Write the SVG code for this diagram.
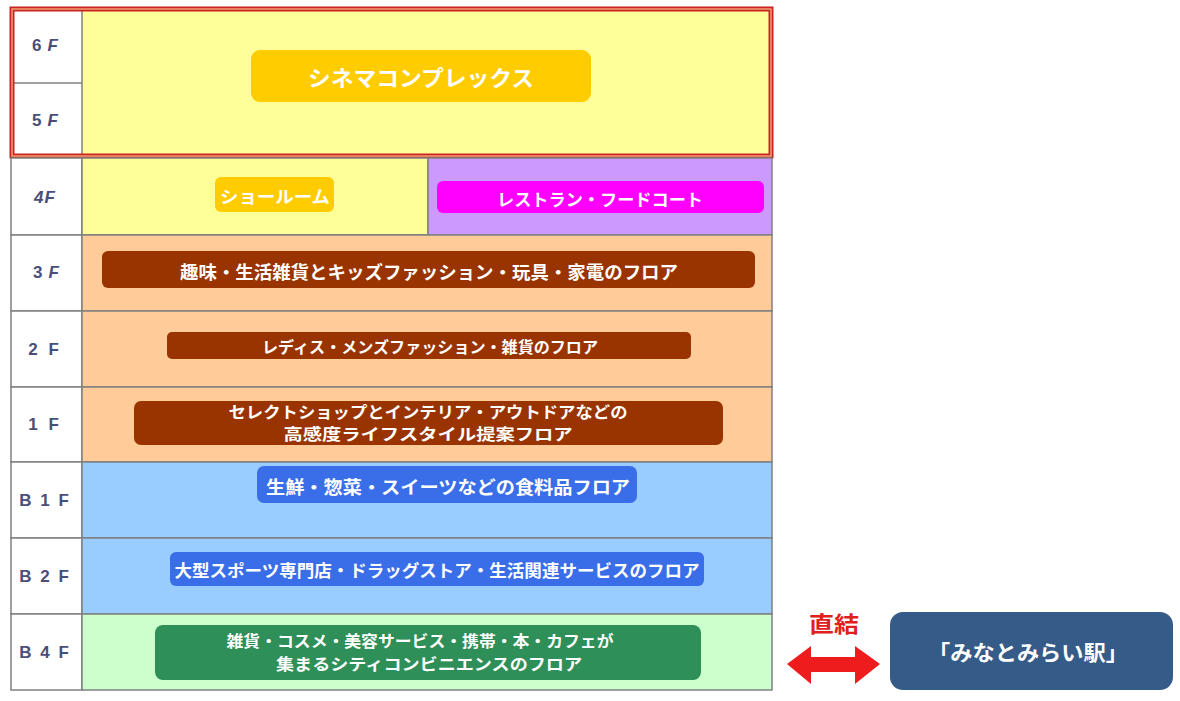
<svg xmlns="http://www.w3.org/2000/svg" width="1180" height="701" viewBox="0 0 1180 701">
<style>
.grid{stroke:#808080;stroke-width:1.5;}
.lbl{font-family:"Liberation Sans","DejaVu Sans",sans-serif;font-weight:bold;font-size:17px;fill:#4A4E78;text-anchor:middle;dominant-baseline:central;}
.jp{font-family:"Noto Sans CJK JP","Noto Sans",sans-serif;font-weight:bold;fill:#FFFFFF;text-anchor:middle;dominant-baseline:central;}
.brown{fill:#993300;}
.blue{fill:#3A6EE8;}
.green{fill:#2F8F58;}
.gold{fill:#FFCC00;}
</style>
<rect x="0" y="0" width="1180" height="701" fill="#FFFFFF"/>
<g id="floor-6f-5f">
<rect x="82" y="8" width="690" height="150" fill="#FFFF99"/>
<rect x="11" y="8" width="71" height="150" fill="#FFFFFF"/>
<line class="grid" x1="11" y1="83" x2="82" y2="83"/>
<line class="grid" x1="82" y1="8" x2="82" y2="158"/>
<rect x="12" y="9" width="759" height="147" fill="none" stroke="#CC2222" stroke-width="5"/>
<rect x="12" y="9" width="759" height="147" fill="none" stroke="#F0A070" stroke-width="1.5"/>
<text class="lbl" x="45" y="45">6<tspan font-style="italic" dx="6">F</tspan></text>
<text class="lbl" x="45" y="120">5<tspan font-style="italic" dx="6">F</tspan></text>
<rect class="gold" x="251" y="50" width="340" height="52" rx="9"/>
<text class="jp" x="421" y="76" font-size="22" textLength="226" lengthAdjust="spacingAndGlyphs">シネマコンプレックス</text>
</g>
<g id="floor-4f">
<rect x="11" y="158" width="71" height="77" fill="#FFFFFF" class="grid"/>
<rect x="82" y="158" width="346" height="77" fill="#FFFF99" class="grid"/>
<rect x="428" y="158" width="344" height="77" fill="#CC99FF" class="grid"/>
<text class="lbl" x="45" y="197" font-style="italic" letter-spacing="1">4F</text>
<rect class="gold" x="215" y="177" width="119" height="35" rx="6"/>
<text class="jp" x="275" y="195" font-size="17" textLength="110" lengthAdjust="spacingAndGlyphs">ショールーム</text>
<rect x="437" y="181" width="327" height="32" rx="6" fill="#FF00FF"/>
<text class="jp" x="600" y="198" font-size="17" textLength="206" lengthAdjust="spacingAndGlyphs">レストラン・フードコート</text>
</g>
<g id="floor-3f">
<rect x="11" y="235" width="71" height="76" fill="#FFFFFF" class="grid"/>
<rect x="82" y="235" width="690" height="76" fill="#FFCC99" class="grid"/>
<text class="lbl" x="46" y="272">3<tspan font-style="italic" dx="6">F</tspan></text>
<rect class="brown" x="102" y="251" width="653" height="37" rx="6"/>
<text class="jp" x="429" y="271" font-size="18" textLength="498" lengthAdjust="spacingAndGlyphs">趣味・生活雑貨とキッズファッション・玩具・家電のフロア</text>
</g>
<g id="floor-2f">
<rect x="11" y="311" width="71" height="76" fill="#FFFFFF" class="grid"/>
<rect x="82" y="311" width="690" height="76" fill="#FFCC99" class="grid"/>
<text class="lbl" x="45" y="349" letter-spacing="3">2 F</text>
<rect class="brown" x="167" y="332" width="524" height="27" rx="5"/>
<text class="jp" x="430" y="346" font-size="16" textLength="336" lengthAdjust="spacingAndGlyphs">レディス・メンズファッション・雑貨のフロア</text>
</g>
<g id="floor-1f">
<rect x="11" y="387" width="71" height="75" fill="#FFFFFF" class="grid"/>
<rect x="82" y="387" width="690" height="75" fill="#FFCC99" class="grid"/>
<text class="lbl" x="45" y="424" letter-spacing="3">1 F</text>
<rect class="brown" x="134" y="401" width="589" height="44" rx="7"/>
<text class="jp" x="428" y="411" font-size="16" textLength="399" lengthAdjust="spacingAndGlyphs">セレクトショップとインテリア・アウトドアなどの</text>
<text class="jp" x="428" y="433" font-size="16" textLength="289" lengthAdjust="spacingAndGlyphs">高感度ライフスタイル提案フロア</text>
</g>
<g id="floor-b1f">
<rect x="11" y="462" width="71" height="76" fill="#FFFFFF" class="grid"/>
<rect x="82" y="462" width="690" height="76" fill="#99CCFF" class="grid"/>
<text class="lbl" x="45" y="500" letter-spacing="2">B 1 F</text>
<rect class="blue" x="257" y="466" width="380" height="37" rx="7"/>
<text class="jp" x="448" y="486" font-size="18" textLength="364" lengthAdjust="spacingAndGlyphs">生鮮・惣菜・スイーツなどの食料品フロア</text>
</g>
<g id="floor-b2f">
<rect x="11" y="538" width="71" height="76" fill="#FFFFFF" class="grid"/>
<rect x="82" y="538" width="690" height="76" fill="#99CCFF" class="grid"/>
<text class="lbl" x="45" y="576" letter-spacing="2">B 2 F</text>
<rect class="blue" x="170" y="552" width="534" height="34" rx="6"/>
<text class="jp" x="437" y="569" font-size="17" textLength="525" lengthAdjust="spacingAndGlyphs">大型スポーツ専門店・ドラッグストア・生活関連サービスのフロア</text>
</g>
<g id="floor-b4f">
<rect x="11" y="614" width="71" height="76" fill="#FFFFFF" class="grid"/>
<rect x="82" y="614" width="690" height="76" fill="#CCFFCC" class="grid"/>
<text class="lbl" x="45" y="652" letter-spacing="2">B 4 F</text>
<rect class="green" x="155" y="625" width="546" height="55" rx="8"/>
<text class="jp" x="420" y="640" font-size="16" textLength="387" lengthAdjust="spacingAndGlyphs">雑貨・コスメ・美容サービス・携帯・本・カフェが</text>
<text class="jp" x="429" y="663" font-size="16" textLength="306" lengthAdjust="spacingAndGlyphs">集まるシティコンビニエンスのフロア</text>
</g>
<g id="station">
<rect x="890" y="612" width="283" height="78" rx="13" fill="#355B88"/>
<text class="jp" x="1028" y="651" font-size="21" textLength="200" lengthAdjust="spacingAndGlyphs">「みなとみらい駅」</text>
</g>
<g id="connectors">
<path d="M787,664 L811,646 L811,657 L855,657 L855,646 L880,664 L855,684 L855,672 L811,672 L811,684 Z" fill="#EE1C1C"/>
<text x="834" y="622" font-family="Noto Sans CJK JP, sans-serif" font-weight="bold" font-size="22" fill="#E02020" text-anchor="middle" dominant-baseline="central" textLength="50" lengthAdjust="spacingAndGlyphs">直結</text>
</g>
</svg>
